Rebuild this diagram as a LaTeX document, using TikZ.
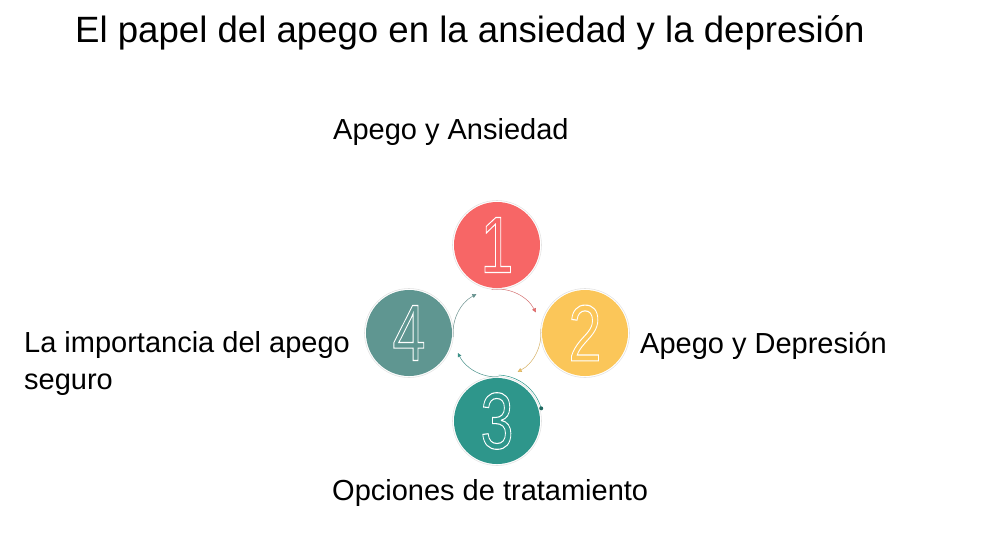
\documentclass[tikz,border=0pt]{standalone}
\usepackage{fontspec}
\setmainfont{Liberation Sans}
\usetikzlibrary{arrows.meta}
\definecolor{rojo}{HTML}{F76666}
\definecolor{amarillo}{HTML}{FBC659}
\definecolor{verde}{HTML}{2E968B}
\definecolor{gris}{HTML}{5F9691}
\newcommand{\hueco}[1]{\scalebox{0.74}[1]{\special{pdf:code 1 Tr 1.1 w}#1\special{pdf:code 0 Tr}}}
\tikzset{
  paso/.style={circle, fill=#1, minimum size=86pt, inner sep=0pt, text=white,
    font=\fontsize{80}{80}\selectfont},
  anillo/.style={draw=gray!22, line width=0.6pt},
  flecha/.style={draw=#1!70!gray, line width=0.5pt,
    -{Triangle[length=4pt,width=4pt,fill=#1]}},
  etiqueta/.style={font=\fontsize{29}{37}\selectfont, anchor=base west, inner sep=0pt}
}
\begin{document}
\begin{tikzpicture}[x=1pt,y=1pt]
\useasboundingbox (0,0) rectangle (1000,-558);
\node [font=\fontsize{36.6}{37}\selectfont, anchor=base west, inner sep=0pt] (titulo)
  at (75,-42) {El papel del apego en la ansiedad y la depresión};
\matrix (M) [column sep=2pt,row sep=2pt] at (497,-333)
{
 & \node [paso=rojo] (Ans) {\hueco{1}}; & \\
\node [paso=gris] (Seg) {\hueco{4}}; & & \node [paso=amarillo] (Dep) {\hueco{2}}; \\
 & \node [paso=verde] (Trat) {\hueco{3}}; & \\
};
\draw [anillo] (Ans.center) circle [radius=44.5pt];
\draw [anillo] (Dep.center) circle [radius=44.5pt];
\draw [anillo] (Trat.center) circle [radius=44.5pt];
\draw [anillo] (Seg.center) circle [radius=44.5pt];
\coordinate (centro) at (M.center);
\coordinate (punto) at ([shift={(16:46pt)}]Trat.center);
\draw [flecha=rojo] ([shift={(97:44pt)}]centro) arc [start angle=97, end angle=28, radius=44pt];
\draw [flecha=amarillo] ([shift={(5:44pt)}]centro) arc [start angle=5, end angle=-62, radius=44pt];
\draw [flecha=verde] ([shift={(-88:44pt)}]centro) arc [start angle=-88, end angle=-153, radius=44pt];
\draw [flecha=gris] ([shift={(185:44pt)}]centro) arc [start angle=185, end angle=118, radius=44pt];
\draw [verde, line width=0.5pt] (punto) arc [start angle=16, end angle=88, radius=46pt];
\fill [verde!70!black] (punto) circle [radius=2pt];
\node [etiqueta] (LAns) at (333,-139) {Apego y Ansiedad};
\node [etiqueta] (LDep) at (640,-353) {Apego y Depresión};
\node [etiqueta] (LTrat) at (332,-500) {Opciones de tratamiento};
\node [etiqueta, align=left] (LSeg) at (24,-389) {La importancia del apego\\seguro};
\end{tikzpicture}
\end{document}
